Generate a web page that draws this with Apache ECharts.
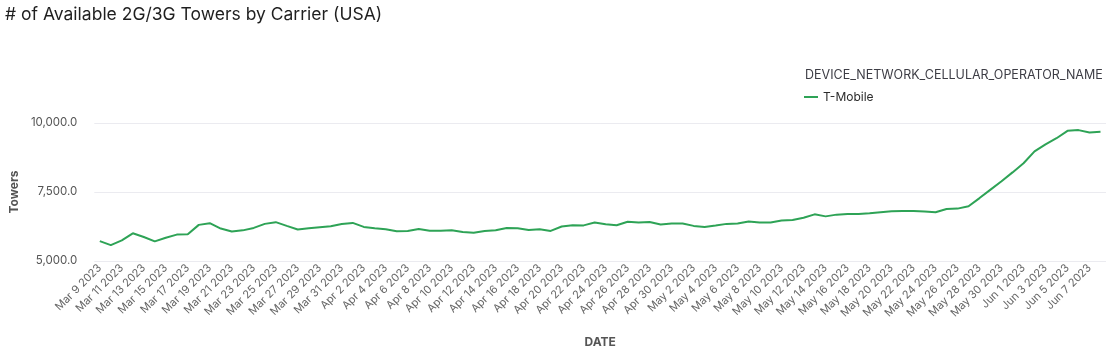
<!DOCTYPE html>
<html>
<head>
<meta charset="utf-8">
<script src="https://cdn.jsdelivr.net/npm/echarts@6/dist/echarts.min.js"></script>
<style>
html,body{margin:0;padding:0;background:#fff;}
#chart{width:1113px;height:355px;}
</style>
</head>
<body>
<div id="chart"></div>
<script>
const titleText = '# of Available 2G/3G Towers by Carrier (USA)';
const legendTitle = 'DEVICE_NETWORK_CELLULAR_OPERATOR_NAME';
const seriesName = 'T-Mobile';
const dates = [
 'Mar 9 2023','Mar 10 2023','Mar 11 2023','Mar 12 2023','Mar 13 2023','Mar 14 2023','Mar 15 2023','Mar 16 2023','Mar 17 2023','Mar 18 2023',
 'Mar 19 2023','Mar 20 2023','Mar 21 2023','Mar 22 2023','Mar 23 2023','Mar 24 2023','Mar 25 2023','Mar 26 2023','Mar 27 2023','Mar 28 2023',
 'Mar 29 2023','Mar 30 2023','Mar 31 2023','Apr 1 2023','Apr 2 2023','Apr 3 2023','Apr 4 2023','Apr 5 2023','Apr 6 2023','Apr 7 2023',
 'Apr 8 2023','Apr 9 2023','Apr 10 2023','Apr 11 2023','Apr 12 2023','Apr 13 2023','Apr 14 2023','Apr 15 2023','Apr 16 2023','Apr 17 2023',
 'Apr 18 2023','Apr 19 2023','Apr 20 2023','Apr 21 2023','Apr 22 2023','Apr 23 2023','Apr 24 2023','Apr 25 2023','Apr 26 2023','Apr 27 2023',
 'Apr 28 2023','Apr 29 2023','Apr 30 2023','May 1 2023','May 2 2023','May 3 2023','May 4 2023','May 5 2023','May 6 2023','May 7 2023',
 'May 8 2023','May 9 2023','May 10 2023','May 11 2023','May 12 2023','May 13 2023','May 14 2023','May 15 2023','May 16 2023','May 17 2023',
 'May 18 2023','May 19 2023','May 20 2023','May 21 2023','May 22 2023','May 23 2023','May 24 2023','May 25 2023','May 26 2023','May 27 2023',
 'May 28 2023','May 29 2023','May 30 2023','May 31 2023','Jun 1 2023','Jun 2 2023','Jun 3 2023','Jun 4 2023','Jun 5 2023','Jun 6 2023',
 'Jun 7 2023','Jun 8 2023'
];
const towers = [
 5720,5573,5746,6003,5870,5710,5845,5956,5968,6309,
 6371,6176,6066,6110,6198,6345,6408,6272,6140,6186,
 6225,6262,6340,6380,6236,6187,6150,6077,6090,6162,
 6100,6100,6115,6052,6027,6090,6115,6198,6186,6125,
 6150,6090,6250,6298,6290,6397,6335,6298,6420,6397,
 6410,6323,6360,6360,6272,6236,6285,6345,6360,6434,
 6397,6397,6470,6483,6566,6690,6617,6680,6700,6700,
 6727,6765,6800,6812,6812,6790,6765,6886,6898,6985,
 7280,7585,7890,8210,8540,8970,9228,9449,9717,9742,
 9656,9680
];
const yMin = 5000, yMax = 10000, yStep = 2500;

const chart = echarts.init(document.getElementById('chart'));
const font = 'Inter, "Noto Sans", sans-serif';
chart.setOption({
  animation: false,
  textStyle: { fontFamily: font },
  title: {
    text: titleText, left: 0, top: 1,
    textStyle: { fontSize: 17.5, fontWeight: 'normal', color: '#1f1f1f', fontFamily: font }
  },
  graphic: [{
    type: 'text', left: 805, top: 69,
    style: { text: legendTitle, fontSize: 12.5, fill: '#3d3d45', fontFamily: font }
  }],
  legend: {
    left: 799, top: 86, icon: 'rect', itemWidth: 14, itemHeight: 2, itemGap: 6,
    textStyle: { fontSize: 12, color: '#2a2a2a', fontFamily: font },
    data: [{ name: seriesName }]
  },
  grid: { left: 87, right: 7, top: 123, bottom: 94, containLabel: false },
  xAxis: {
    type: 'category', data: dates, boundaryGap: true,
    name: 'DATE', nameLocation: 'middle', nameGap: 75,
    nameTextStyle: { fontSize: 12, fontWeight: 'bold', color: '#555', fontFamily: font },
    axisLine: { show: false }, axisTick: { show: false },
    axisLabel: { interval: 1, rotate: 45, fontSize: 11, color: '#666', margin: 5, fontFamily: font }
  },
  yAxis: {
    type: 'value', min: yMin, max: yMax, interval: yStep,
    name: 'Towers', nameLocation: 'middle', nameGap: 67, nameRotate: 90,
    nameTextStyle: { fontSize: 12, fontWeight: 'bold', color: '#555', fontFamily: font },
    axisLine: { show: false }, axisTick: { show: false },
    splitLine: { lineStyle: { color: '#ebebf0', width: 1 } },
    axisLabel: {
      fontSize: 11.5, color: '#555', margin: 17, fontFamily: font,
      formatter: v => v.toLocaleString('en-US', { minimumFractionDigits: 1, maximumFractionDigits: 1 })
    }
  },
  series: [{
    name: seriesName, type: 'line', data: towers, showSymbol: false,
    lineStyle: { color: '#2ea356', width: 2 }, itemStyle: { color: '#2ea356' }
  }]
});
</script>
</body>
</html>
